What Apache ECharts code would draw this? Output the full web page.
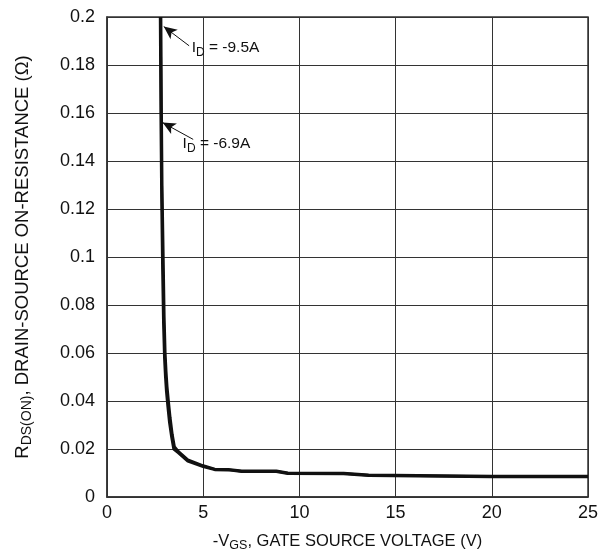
<!DOCTYPE html>
<html>
<head>
<meta charset="utf-8">
<script src="https://cdn.jsdelivr.net/npm/echarts@6/dist/echarts.min.js"></script>
<style>html,body{margin:0;padding:0;background:#fff}#c{width:602px;height:554px}</style>
</head>
<body>
<div id="c"></div>
<script>
// -VGS (V) vs RDS(on) (ohm)
const vgs_95 = [2.80, 2.83, 2.86, 2.92, 2.97, 3.02, 3.07, 3.12, 3.19, 3.28, 3.39, 3.50, 3.70, 4.20, 5.00, 5.60, 6.30, 7.00, 8.80, 9.40, 12.3, 13.6, 20.0, 25.0];
const rds_95 = [0.200, 0.160, 0.130, 0.100, 0.075, 0.060, 0.052, 0.046, 0.040, 0.033, 0.026, 0.021, 0.019, 0.0155, 0.0130, 0.0116, 0.0115, 0.0108, 0.0108, 0.0100, 0.0099, 0.0092, 0.0086, 0.0086];
const vgs_69 = [2.77, 2.80, 2.84, 2.89, 2.94, 2.99, 3.04, 3.09, 3.16, 3.25, 3.36, 3.47, 3.70, 4.20, 5.00, 5.60, 6.30, 7.00, 8.80, 9.40, 12.3, 13.6, 20.0, 25.0];
const rds_69 = [0.200, 0.160, 0.125, 0.095, 0.072, 0.058, 0.050, 0.044, 0.038, 0.031, 0.025, 0.020, 0.0185, 0.0150, 0.0127, 0.0114, 0.0113, 0.0106, 0.0106, 0.0098, 0.0097, 0.0090, 0.0084, 0.0084];
const xTicks = { min: 0, max: 25, interval: 5 };
const yTicks = { min: 0, max: 0.2, interval: 0.02 };
// annotations: arrow tail, arrow tip, text anchor, label
const notes = [
  { tail: [4.27, 0.188], tip: [2.95, 0.196], text: [4.40, 0.1870], id: '-9.5A' },
  { tail: [4.48, 0.149], tip: [2.89, 0.156], text: [3.93, 0.1470], id: '-6.9A' }
];

const font = 'Liberation Sans, Arial, sans-serif';
const chart = echarts.init(document.getElementById('c'), null, { renderer: 'canvas' });
const zip = (a, b) => a.map((v, i) => [v, b[i]]);

const option = {
  animation: false,
  textStyle: { fontFamily: font },
  grid: { left: 107, right: 14, top: 17, bottom: 57, show: true, borderColor: '#333', borderWidth: 1.5,
    containLabel: false, outerBoundsMode: 'none' },
  xAxis: {
    type: 'value', min: xTicks.min, max: xTicks.max, interval: xTicks.interval,
    axisLine: { lineStyle: { color: '#333', width: 1.5 } },
    axisTick: { show: false },
    splitLine: { lineStyle: { color: '#333', width: 1 } },
    axisLabel: { color: '#111', fontSize: 18, margin: 7, fontFamily: font },
    name: '{t|-V}{s|GS}{t|, GATE SOURCE VOLTAGE (V)}',
    nameLocation: 'middle', nameGap: 34,
    nameTextStyle: {
      rich: {
        t: { fontSize: 16.5, color: '#111', fontFamily: font },
        s: { fontSize: 12.5, color: '#111', fontFamily: font, padding: [8, 0, 0, 0] }
      }
    }
  },
  yAxis: {
    type: 'value', min: yTicks.min, max: yTicks.max, interval: yTicks.interval,
    axisLine: { show: true, lineStyle: { color: '#333', width: 1.5 } },
    axisTick: { show: false },
    splitLine: { lineStyle: { color: '#333', width: 1 } },
    axisLabel: { color: '#111', fontSize: 18, margin: 12, fontFamily: font,
      formatter: v => String(parseFloat(v.toFixed(3))) },
    name: '{t|R}{s|DS(ON)}{t|, DRAIN-SOURCE ON-RESISTANCE (Ω)}',
    nameLocation: 'middle', nameGap: 73, nameRotate: 90,
    nameTextStyle: {
      rich: {
        t: { fontSize: 18.5, color: '#111', fontFamily: font },
        s: { fontSize: 14, color: '#111', fontFamily: font, padding: [9, 0, 0, 0] }
      }
    }
  },
  series: [
    {
      name: 'ID=-9.5A', type: 'line', data: zip(vgs_95, rds_95), showSymbol: false, symbol: 'none',
      lineStyle: { color: '#111', width: 3 }, z: 5,
      markLine: {
        silent: true, symbol: ['none', 'arrow'], symbolSize: [9, 13],
        lineStyle: { color: '#111', width: 1, type: 'solid' }, label: { show: false },
        data: notes.map(n => [{ coord: n.tail }, { coord: n.tip }])
      },
      markPoint: {
        silent: true, symbol: 'circle', symbolSize: 0,
        data: notes.map(n => ({
          coord: n.text,
          label: {
            show: true, position: 'right', distance: 0,
            formatter: '{t|I}{s|D}{t| = ' + n.id + '}',
            rich: {
              t: { fontSize: 15.5, color: '#111', fontFamily: font },
              s: { fontSize: 12, color: '#111', fontFamily: font, padding: [8, 0, 0, 0] }
            }
          }
        }))
      }
    },
    {
      name: 'ID=-6.9A', type: 'line', data: zip(vgs_69, rds_69), showSymbol: false, symbol: 'none',
      lineStyle: { color: '#111', width: 3 }, z: 5
    }
  ]
};
chart.setOption(option);
</script>
</body>
</html>
